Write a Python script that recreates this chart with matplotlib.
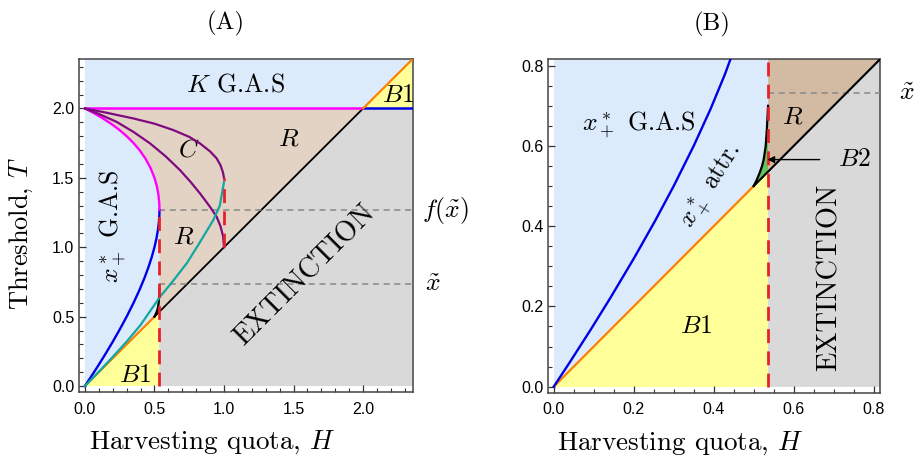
import matplotlib
matplotlib.use("Agg")
import matplotlib.pyplot as plt
from matplotlib.patches import Polygon
from matplotlib.ticker import MultipleLocator

# model constants
K = 2.0
H_STAR = 0.536      # largest quota on the x+ boundary
H_CUSP = 0.5        # where the B2 boundary leaves the diagonal
X_TILDE = 0.732
F_X_TILDE = 1.268
H_C = 1.0

# x+ boundary, lower (blue) branch: H, T
low_H = [0.0, 0.0388, 0.0929, 0.1422, 0.2014, 0.2538, 0.30, 0.35, 0.3923,
         0.4278, 0.4571, 0.481, 0.50, 0.5145, 0.525, 0.5318, 0.5353, 0.536]
low_T = [0.0, 0.0588, 0.1429, 0.2222, 0.3214, 0.4138, 0.50, 0.60, 0.6923,
         0.7778, 0.8571, 0.931, 1.0, 1.0645, 1.125, 1.1818, 1.2353, 1.268]

# x+ boundary, upper (magenta) branch
up_H = [0.536, 0.5346, 0.5284, 0.5175, 0.50, 0.4714, 0.4364, 0.3957, 0.35,
        0.30, 0.2462, 0.1889, 0.1286, 0.0655, 0.0]
up_T = [1.268, 1.3146, 1.3784, 1.4375, 1.50, 1.5714, 1.6364, 1.6957, 1.75,
        1.80, 1.8462, 1.8889, 1.9286, 1.9655, 2.0]

# C curves
cA_H = [0.0, 0.15, 0.347, 0.5, 0.635, 0.75, 0.827, 0.9, 0.947, 0.975, 0.992,
        1.0]
cA_T = [2.0, 1.97, 1.928, 1.89, 1.844, 1.795, 1.748, 1.69, 1.64, 1.59, 1.54,
        1.5]
cB_H = [0.0, 0.1, 0.228, 0.35, 0.468, 0.58, 0.683, 0.76, 0.827, 0.9, 0.947,
        0.975, 0.993, 1.0]
cB_T = [2.0, 1.96, 1.903, 1.83, 1.748, 1.655, 1.556, 1.47, 1.388, 1.29, 1.219,
        1.15, 1.08, 1.0]

# teal curve
tl_H = [0.0, 0.1, 0.2, 0.3, 0.4, 0.5, 0.54, 0.62, 0.732, 0.822, 0.923, 0.97,
        1.0]
tl_T = [0.0, 0.103, 0.21, 0.32, 0.44, 0.585, 0.643, 0.74, 0.884, 1.028, 1.196,
        1.30, 1.47]

# B2 boundary
b2_H = [0.5, 0.508, 0.515, 0.521, 0.525, 0.53, 0.533, 0.536]
b2_T = [0.5, 0.516, 0.533, 0.55, 0.566, 0.599, 0.641, 0.70]

C_BLUE_BG = "#dcebfc"
C_TAN_A = "#e2d3c5"
C_TAN_B = "#d3bba3"
C_GRAY = "#d9d9d9"
C_YELLOW = "#ffff99"
C_GREEN = "#66c35a"

SERIF = ["cmr10", "DejaVu Serif"]
plt.rcParams["font.family"] = ["Liberation Sans", "DejaVu Sans"]
plt.rcParams["axes.formatter.use_mathtext"] = True

fig = plt.figure(figsize=(9.19, 4.66), dpi=100)
axA = fig.add_axes([0.0856, 0.1588, 0.3634, 0.7146])
axB = fig.add_axes([0.596, 0.1573, 0.3616, 0.7155])


def lab(ax, x, y, s, size=18.5, **kw):
    ax.text(x, y, s, fontsize=size, family=SERIF, math_fontfamily="cm",
            ha="center", va="center", **kw)


def draw_regions(ax, xmax, ymax, tan):
    ax.add_patch(Polygon([(0, 0), (xmax, 0), (xmax, ymax), (0, ymax)],
                         closed=True, fc=C_BLUE_BG, ec="none", zorder=0))
    # R region
    pts = list(zip(up_H[::-1], up_T[::-1])) + [(H_STAR, H_STAR), (K, K)]
    ax.add_patch(Polygon(pts, closed=True, fc=tan, ec="none", zorder=1))
    # extinction
    top = min(K, ymax)
    ax.add_patch(Polygon([(H_STAR, 0), (xmax, 0), (xmax, top), (top, top),
                          (H_STAR, H_STAR)], closed=True, fc=C_GRAY,
                         ec="none", zorder=1))
    # B1
    ax.add_patch(Polygon([(0, 0), (H_STAR, 0), (H_STAR, H_STAR)], closed=True,
                         fc=C_YELLOW, ec="none", zorder=1))
    if xmax > K:
        ax.add_patch(Polygon([(K, K), (xmax, xmax), (xmax, K)], closed=True,
                             fc=C_YELLOW, ec="none", zorder=1))
    # B2
    ax.add_patch(Polygon(list(zip(b2_H, b2_T)) + [(H_STAR, H_STAR)],
                         closed=True, fc=C_GREEN, ec="none", zorder=1))


def draw_lines(ax, xmax, ymax):
    ax.plot([0, H_CUSP], [0, H_CUSP], color="#ff8000", lw=1.6, zorder=3)
    ax.plot([H_CUSP, min(K, xmax)], [H_CUSP, min(K, xmax)], color="black",
            lw=1.3, zorder=3)
    ax.plot(b2_H, b2_T, color="black", lw=1.6, zorder=4)
    ax.plot(low_H, low_T, color="#0000e6", lw=1.7, zorder=4)
    ax.plot([H_STAR, xmax], [X_TILDE, X_TILDE], color="#888888", lw=1.1,
            ls=(0, (4, 3)), zorder=3)
    top = min(F_X_TILDE, ymax)
    ax.plot([H_STAR, H_STAR], [0, top], color="#e8202a", lw=2.0,
            ls=(0, (5, 3)), zorder=5)


def style(ax, xmax, ymax, xpad, ypad, major, minor):
    ax.set_xlim(-xpad, xmax)
    ax.set_ylim(-ypad, ymax)
    ax.xaxis.set_major_locator(MultipleLocator(major))
    ax.xaxis.set_minor_locator(MultipleLocator(minor))
    ax.yaxis.set_major_locator(MultipleLocator(major))
    ax.yaxis.set_minor_locator(MultipleLocator(minor))
    ax.xaxis.set_major_formatter(lambda v, p: f"{v:.1f}")
    ax.yaxis.set_major_formatter(lambda v, p: f"{v:.1f}")
    ax.tick_params(which="major", direction="in", length=5, width=0.9,
                   labelsize=11.5, color="#333333")
    ax.tick_params(which="minor", direction="in", length=3, width=0.8,
                   color="#333333")
    ax.tick_params(axis="x", which="major", pad=7)
    ax.tick_params(axis="y", which="major", pad=3)
    for s in ax.spines.values():
        s.set_color("#444444")
        s.set_linewidth(1.1)


# panel A
xmaxA = ymaxA = 2.356
draw_regions(axA, xmaxA, ymaxA, C_TAN_A)
draw_lines(axA, xmaxA, ymaxA)
axA.plot(up_H, up_T, color="#ff00ff", lw=1.7, zorder=4)
axA.plot([0, K], [K, K], color="#ff00ff", lw=1.8, zorder=4)
axA.plot([K, xmaxA], [K, K], color="#0000e6", lw=1.8, zorder=4)
axA.plot([K, xmaxA], [K, xmaxA], color="#ff8000", lw=1.6, zorder=4)
axA.plot(cA_H, cA_T, color="#7f0a7f", lw=1.6, zorder=4)
axA.plot(cB_H, cB_T, color="#7f0a7f", lw=1.6, zorder=4)
axA.plot(tl_H, tl_T, color="#10a8a0", lw=1.6, zorder=4)
axA.plot([H_STAR, xmaxA], [F_X_TILDE, F_X_TILDE], color="#888888", lw=1.1,
         ls=(0, (4, 3)), zorder=3)
axA.plot([H_C, H_C], [H_C, 1.5], color="#e8202a", lw=2.0, ls=(0, (5, 3)),
         zorder=5)
style(axA, xmaxA, ymaxA, 0.045, 0.043, 0.5, 0.1)

lab(axA, 1.08, 2.17, r"$K$ G.A.S")
lab(axA, 0.743, 1.70, r"$C$")
lab(axA, 1.463, 1.784, r"$R$")
lab(axA, 2.254, 2.096, r"$B$1")
lab(axA, 0.707, 1.075, r"$R$")
lab(axA, 0.36, 0.08, r"$B$1")
lab(axA, 0.20, 1.15, r"$x_+^*$ G.A.S", rotation=90)
lab(axA, 1.583, 0.80, "EXTINCTION", size=20.5, rotation=45)
lab(axA, 2.59, F_X_TILDE, r"$f(\tilde{x})$", clip_on=False)
lab(axA, 2.50, X_TILDE, r"$\tilde{x}$", clip_on=False)

axA.set_ylabel(r"Threshold, $T$", fontsize=19, family=SERIF,
               math_fontfamily="cm")
axA.yaxis.set_label_coords(-0.13, 0.475)
axA.set_xlabel(r"Harvesting quota, $H$", fontsize=19.5, family=SERIF,
               math_fontfamily="cm")
axA.xaxis.set_label_coords(0.40, -0.11)
axA.set_title("(A)", fontsize=18, family=SERIF, x=0.44, pad=21)

# panel B
xmaxB = ymaxB = 0.816
draw_regions(axB, xmaxB, ymaxB, C_TAN_B)
draw_lines(axB, xmaxB, ymaxB)
axB.plot([H_CUSP, xmaxB], [H_CUSP, xmaxB], color="black", lw=1.3, zorder=3)
style(axB, xmaxB, ymaxB, 0.015, 0.015, 0.2, 0.05)

lab(axB, 0.2125, 0.653, r"$x_+^*$ G.A.S")
lab(axB, 0.395, 0.50, r"$x_+^*$ attr.", rotation=58)
lab(axB, 0.598, 0.674, r"$R$")
lab(axB, 0.357, 0.15, r"$B$1")
lab(axB, 0.69, 0.272, "EXTINCTION", size=20.5, rotation=90)
lab(axB, 0.882, X_TILDE, r"$\tilde{x}$", clip_on=False)
axB.annotate("", xy=(0.5275, 0.566), xytext=(0.672, 0.566),
             arrowprops=dict(arrowstyle="-|>", color="black", lw=1.0,
                             mutation_scale=10), zorder=6)
lab(axB, 0.752, 0.566, r"$B$2")

axB.set_xlabel(r"Harvesting quota, $H$", fontsize=19.5, family=SERIF,
               math_fontfamily="cm")
axB.xaxis.set_label_coords(0.40, -0.11)
axB.set_title("(B)", fontsize=18, family=SERIF, x=0.495, pad=21)

fig.savefig("out.png", dpi=100)
